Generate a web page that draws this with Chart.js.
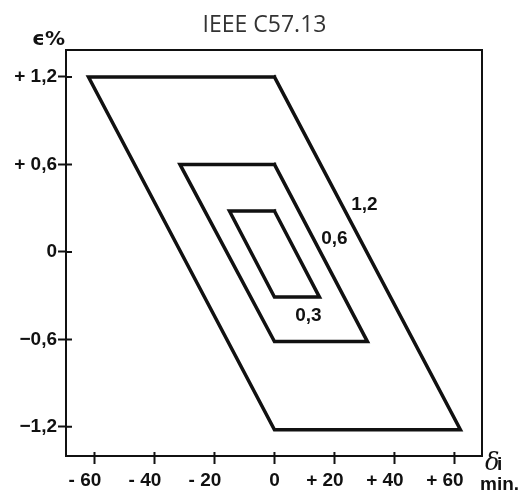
<!DOCTYPE html>
<html><head><meta charset="utf-8">
<script src="https://cdn.jsdelivr.net/npm/chart.js@4"></script>
<style>html,body{margin:0;padding:0;background:#fff}#wrap{width:521px;height:492px}</style>
</head><body><div id="wrap"><canvas id="c" width="521" height="492"></canvas></div>
<script>
// Accuracy classes (parallelograms), corners listed TR, TL, BL, BR, TR
const classNames = ['1,2', '0,6', '0,3'];
const delta12 = [0, -62, 0, 62, 0];
const eps12   = [1.2, 1.2, -1.22, -1.22, 1.2];
const delta06 = [0, -31.5, 0, 31, 0];
const eps06   = [0.6, 0.6, -0.615, -0.615, 0.6];
const delta03 = [0, -15, 0, 15, 0];
const eps03   = [0.28, 0.28, -0.31, -0.31, 0.28];

const xTicks = [-60, -40, -20, 0, 20, 40, 60];
const xTickLabels = ['- 60', '- 40', '- 20', '0', '+ 20', '+ 40', '+ 60'];
const yTicks = [1.2, 0.6, 0, -0.6, -1.2];
const yTickLabels = ['+ 1,2', '+ 0,6', '0', '\u22120,6', '\u22121,2'];
const chartTitle = 'IEEE C57.13';

const FONT = '"Liberation Sans", Arial, Helvetica, sans-serif';
const INK = '#111';

function pts(xs, ys) { return xs.map((x, i) => ({ x: x, y: ys[i] })); }

const classAnchors = [{ x: 30, y: 0.32 }, { x: 20, y: 0.09 }, { x: 11.3, y: -0.44 }];

const framePlugin = {
  id: 'frame',
  afterDraw(chart) {
    const { ctx, chartArea: a, scales } = chart;
    const sx = scales.x, sy = scales.y;
    ctx.save();
    // title
    ctx.fillStyle = '#333';
    ctx.font = '23px "Open Sans", sans-serif';
    ctx.textAlign = 'center'; ctx.textBaseline = 'alphabetic';
    ctx.fillText(chartTitle, 264.5, 32);
    // frame + inner tick stubs
    ctx.strokeStyle = INK; ctx.lineWidth = 2;
    ctx.strokeRect(a.left, a.top, a.right - a.left, a.bottom - a.top);
    ctx.beginPath();
    xTicks.forEach(v => { const p = sx.getPixelForValue(v); ctx.moveTo(p, a.bottom); ctx.lineTo(p, a.bottom - 4); });
    yTicks.forEach(v => { const p = sy.getPixelForValue(v); ctx.moveTo(a.left, p); ctx.lineTo(a.left + 6, p); });
    ctx.stroke();
    // class labels
    ctx.fillStyle = INK;
    ctx.font = 'bold 19px ' + FONT;
    ctx.textAlign = 'center'; ctx.textBaseline = 'middle';
    classNames.forEach((n, i) => {
      ctx.fillText(n, sx.getPixelForValue(classAnchors[i].x), sy.getPixelForValue(classAnchors[i].y));
    });
    // axis titles
    ctx.textBaseline = 'alphabetic';
    ctx.textAlign = 'right';
    ctx.font = 'bold 20px "DejaVu Sans", ' + FONT;
    ctx.fillText('\u03F5%', a.left - 1, a.top - 5);
    ctx.textAlign = 'left';
    ctx.font = 'italic 24px "DejaVu Serif", serif';
    ctx.fillText('\u03B4', a.right + 3, a.bottom + 14);
    ctx.font = 'bold 19px ' + FONT;
    ctx.fillText('i', a.right + 15, a.bottom + 14);
    ctx.fillText('min.', a.right - 2, a.bottom + 34);
    ctx.restore();
  }
};

const lineStyle = { showLine: true, borderColor: INK, borderWidth: 3.5, pointRadius: 0,
  fill: false, tension: 0, borderCapStyle: 'square', borderJoinStyle: 'miter' };

new Chart(document.getElementById('c'), {
  type: 'scatter',
  data: {
    datasets: [
      Object.assign({ label: classNames[0], data: pts(delta12, eps12) }, lineStyle),
      Object.assign({ label: classNames[1], data: pts(delta06, eps06) }, lineStyle),
      Object.assign({ label: classNames[2], data: pts(delta03, eps03) }, lineStyle)
    ]
  },
  options: {
    responsive: false, animation: false, devicePixelRatio: 1,
    layout: { padding: { left: 0, right: 39, top: 50, bottom: 0 } },
    plugins: {
      legend: { display: false }, tooltip: { enabled: false }, title: { display: false }
    },
    scales: {
      x: {
        type: 'linear', min: -69.5, max: 69.2,
        afterBuildTicks: s => { s.ticks = xTicks.map(v => ({ value: v })); },
        afterFit: s => { s.height = 36; },
        ticks: {
          autoSkip: false, maxRotation: 0, minRotation: 0, padding: 5, color: INK,
          font: { family: FONT, size: 19, weight: 'bold' },
          callback: (v, i) => xTickLabels[i] === '0' ? '0' : xTickLabels[i] + '\u2002\u2002'
        },
        grid: { display: true, drawOnChartArea: false, drawTicks: true, tickLength: 8, tickWidth: 2, tickColor: INK },
        border: { display: true, color: INK, width: 2 }
      },
      y: {
        type: 'linear', min: -1.4, max: 1.385,
        afterBuildTicks: s => { s.ticks = yTicks.map(v => ({ value: v })); },
        afterFit: s => { s.width = 66; },
        ticks: {
          autoSkip: false, padding: 1, color: INK,
          font: { family: FONT, size: 19, weight: 'bold' },
          callback: (v, i) => yTickLabels[i]
        },
        grid: { display: true, drawOnChartArea: false, drawTicks: true, tickLength: 8, tickWidth: 2, tickColor: INK },
        border: { display: true, color: INK, width: 2 }
      }
    }
  },
  plugins: [framePlugin]
});
</script>
</body></html>
